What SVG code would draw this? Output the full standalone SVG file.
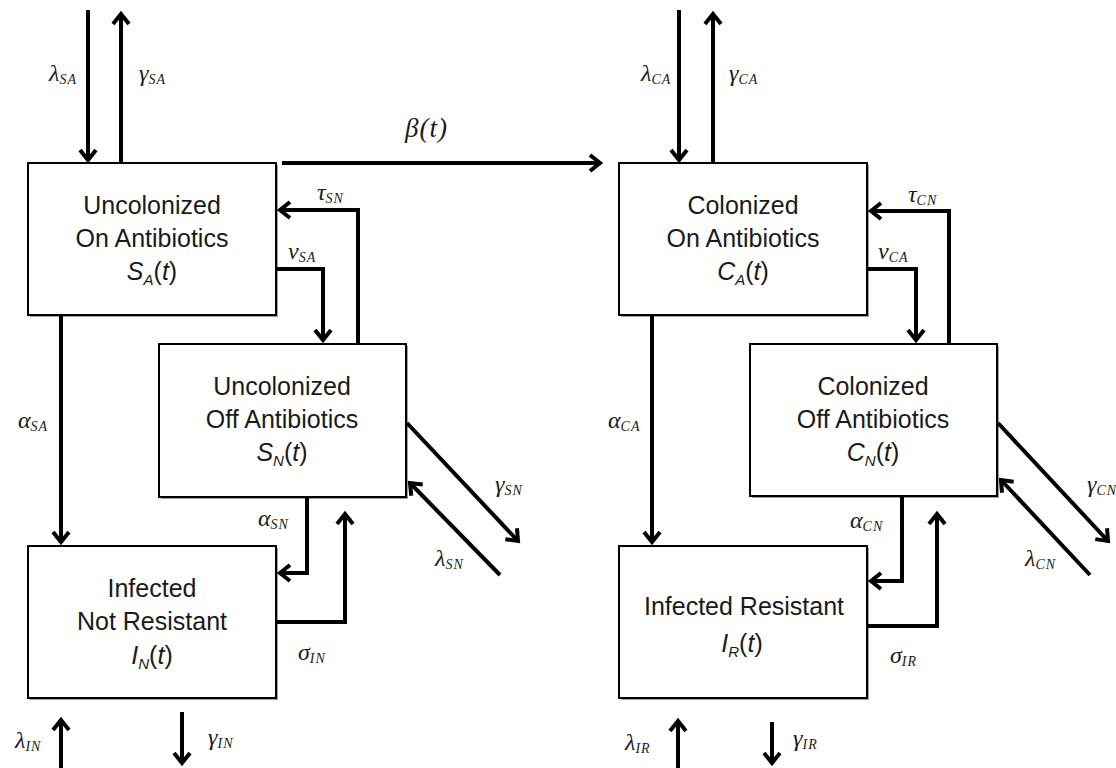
<svg xmlns="http://www.w3.org/2000/svg" width="1116" height="768" viewBox="0 0 1116 768">
<defs>
<style>
.box{fill:#fff;stroke:#000;stroke-width:2}
.sh{fill:#a0a0a0}
.nt{font-family:"Liberation Sans",Arial,sans-serif;font-size:25px;fill:#1a1a1a;text-anchor:middle}
.it{font-style:italic}
.sb{font-size:15px;font-style:italic}
.c{fill:none;stroke:#000;stroke-width:4;stroke-linejoin:miter}
.g{font-family:"Liberation Serif","Times New Roman",serif;font-style:italic;font-size:24px;fill:#1a1a1a}
.gs{font-size:14px;letter-spacing:1px}
.beta{font-size:27px;letter-spacing:1px}
</style>
<marker id="ah" markerUnits="userSpaceOnUse" markerWidth="18" markerHeight="24" viewBox="-14 -12 18 24" refX="0" refY="0" orient="auto">
<path d="M-10,-8 L0,0 L-10,8" fill="none" stroke="#000" stroke-width="4"/>
</marker>
</defs>
<rect width="1116" height="768" fill="#fff"/>

<g id="node-SA">
<rect class="sh" x="30" y="165" width="248" height="152"/>
<rect class="box" x="28" y="163" width="248" height="152"/>
<text class="nt" x="152" y="214">Uncolonized</text>
<text class="nt" x="152" y="247">On Antibiotics</text>
<text class="nt" x="152" y="280"><tspan class="it">S</tspan><tspan class="sb" dy="5">A</tspan><tspan dy="-5">(</tspan><tspan class="it">t</tspan>)</text>
</g>

<g id="node-SN">
<rect class="sh" x="161" y="346" width="247" height="153"/>
<rect class="box" x="159" y="344" width="247" height="153"/>
<text class="nt" x="282" y="395">Uncolonized</text>
<text class="nt" x="282" y="428">Off Antibiotics</text>
<text class="nt" x="282" y="461"><tspan class="it">S</tspan><tspan class="sb" dy="5">N</tspan><tspan dy="-5">(</tspan><tspan class="it">t</tspan>)</text>
</g>

<g id="node-IN">
<rect class="sh" x="30" y="548" width="248" height="152"/>
<rect class="box" x="28" y="546" width="248" height="152"/>
<text class="nt" x="152" y="597">Infected</text>
<text class="nt" x="152" y="630">Not Resistant</text>
<text class="nt" x="152" y="664"><tspan class="it">I</tspan><tspan class="sb" dy="5">N</tspan><tspan dy="-5">(</tspan><tspan class="it">t</tspan>)</text>
</g>

<g id="node-CA">
<rect class="sh" x="621" y="165" width="248" height="152"/>
<rect class="box" x="619" y="163" width="248" height="152"/>
<text class="nt" x="743" y="214">Colonized</text>
<text class="nt" x="743" y="247">On Antibiotics</text>
<text class="nt" x="743" y="280"><tspan class="it">C</tspan><tspan class="sb" dy="5">A</tspan><tspan dy="-5">(</tspan><tspan class="it">t</tspan>)</text>
</g>

<g id="node-CN">
<rect class="sh" x="752" y="346" width="247" height="152"/>
<rect class="box" x="750" y="344" width="247" height="152"/>
<text class="nt" x="873" y="395">Colonized</text>
<text class="nt" x="873" y="428">Off Antibiotics</text>
<text class="nt" x="873" y="461"><tspan class="it">C</tspan><tspan class="sb" dy="5">N</tspan><tspan dy="-5">(</tspan><tspan class="it">t</tspan>)</text>
</g>

<g id="node-IR">
<rect class="sh" x="621" y="548" width="248" height="152"/>
<rect class="box" x="619" y="546" width="248" height="152"/>
<text class="nt" x="744" y="615">Infected Resistant</text>
<text class="nt" x="742" y="652"><tspan class="it">I</tspan><tspan class="sb" dy="5">R</tspan><tspan dy="-5">(</tspan><tspan class="it">t</tspan>)</text>
</g>

<g id="connectors">
<line class="c" x1="88" y1="10" x2="88" y2="160" marker-end="url(#ah)"/>
<line class="c" x1="121" y1="163" x2="121" y2="14" marker-end="url(#ah)"/>
<line class="c" x1="282" y1="163" x2="600" y2="163" marker-end="url(#ah)"/>
<polyline class="c" points="358,344 358,210 280,210" marker-end="url(#ah)"/>
<polyline class="c" points="276,269 323,269 323,340" marker-end="url(#ah)"/>
<line class="c" x1="61" y1="315" x2="61" y2="542" marker-end="url(#ah)"/>
<polyline class="c" points="307,497 307,573 280,573" marker-end="url(#ah)"/>
<polyline class="c" points="276,622 345,622 345,514" marker-end="url(#ah)"/>
<line class="c" x1="407" y1="423" x2="518" y2="541" marker-end="url(#ah)"/>
<line class="c" x1="500" y1="575" x2="410" y2="483" marker-end="url(#ah)"/>
<line class="c" x1="61" y1="768" x2="61" y2="720" marker-end="url(#ah)"/>
<line class="c" x1="182" y1="712" x2="182" y2="763" marker-end="url(#ah)"/>

<line class="c" x1="679" y1="10" x2="679" y2="160" marker-end="url(#ah)"/>
<line class="c" x1="713" y1="163" x2="713" y2="14" marker-end="url(#ah)"/>
<polyline class="c" points="949,344 949,211 871,211" marker-end="url(#ah)"/>
<polyline class="c" points="867,269 916,269 916,340" marker-end="url(#ah)"/>
<line class="c" x1="652" y1="315" x2="652" y2="542" marker-end="url(#ah)"/>
<polyline class="c" points="902,496 902,581 871,581" marker-end="url(#ah)"/>
<polyline class="c" points="867,626 937,626 937,514" marker-end="url(#ah)"/>
<line class="c" x1="998" y1="423" x2="1108" y2="541" marker-end="url(#ah)"/>
<line class="c" x1="1090" y1="575" x2="1001" y2="480" marker-end="url(#ah)"/>
<line class="c" x1="678" y1="768" x2="678" y2="721" marker-end="url(#ah)"/>
<line class="c" x1="772" y1="722" x2="772" y2="763" marker-end="url(#ah)"/>
</g>

<g id="labels">
<text class="g" x="49" y="81">λ<tspan class="gs" dy="3">SA</tspan></text>
<text class="g" x="139" y="81">γ<tspan class="gs" dy="3">SA</tspan></text>
<text class="g beta" x="405" y="137">β(t)</text>
<text class="g" x="317" y="200">τ<tspan class="gs" dy="3">SN</tspan></text>
<text class="g" x="288" y="259">ν<tspan class="gs" dy="3">SA</tspan></text>
<text class="g" x="18" y="428">α<tspan class="gs" dy="3">SA</tspan></text>
<text class="g" x="258" y="526">α<tspan class="gs" dy="3">SN</tspan></text>
<text class="g" x="298" y="660">σ<tspan class="gs" dy="3">IN</tspan></text>
<text class="g" x="495" y="492">γ<tspan class="gs" dy="3">SN</tspan></text>
<text class="g" x="435" y="566">λ<tspan class="gs" dy="3">SN</tspan></text>
<text class="g" x="15" y="748">λ<tspan class="gs" dy="3">IN</tspan></text>
<text class="g" x="208" y="745">γ<tspan class="gs" dy="3">IN</tspan></text>

<text class="g" x="641" y="81">λ<tspan class="gs" dy="3">CA</tspan></text>
<text class="g" x="729" y="81">γ<tspan class="gs" dy="3">CA</tspan></text>
<text class="g" x="908" y="202">τ<tspan class="gs" dy="3">CN</tspan></text>
<text class="g" x="878" y="259">ν<tspan class="gs" dy="3">CA</tspan></text>
<text class="g" x="608" y="428">α<tspan class="gs" dy="3">CA</tspan></text>
<text class="g" x="850" y="528">α<tspan class="gs" dy="3">CN</tspan></text>
<text class="g" x="890" y="663">σ<tspan class="gs" dy="3">IR</tspan></text>
<text class="g" x="1087" y="492">γ<tspan class="gs" dy="3">CN</tspan></text>
<text class="g" x="1025" y="566">λ<tspan class="gs" dy="3">CN</tspan></text>
<text class="g" x="625" y="750">λ<tspan class="gs" dy="3">IR</tspan></text>
<text class="g" x="793" y="746">γ<tspan class="gs" dy="3">IR</tspan></text>
</g>
</svg>
